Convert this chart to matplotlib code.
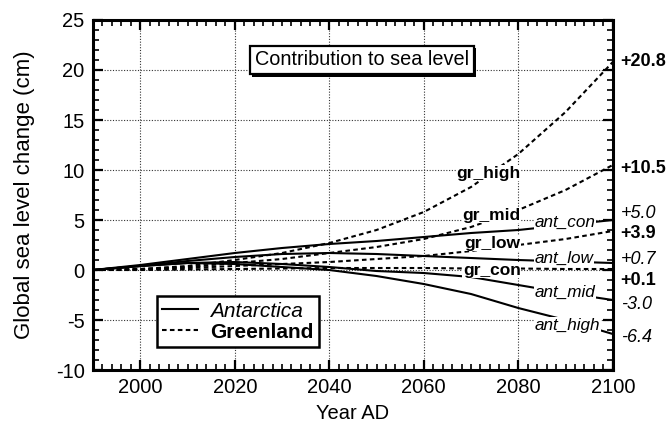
import matplotlib
matplotlib.use("Agg")
import matplotlib.pyplot as plt
import matplotlib.patheffects as pe
from matplotlib.ticker import MultipleLocator

plt.rcParams['font.family'] = ['Liberation Sans', 'DejaVu Sans']
plt.rcParams['axes.unicode_minus'] = False

# --- data (cm of global sea level change) ---
years = [1990, 2000, 2010, 2020, 2030, 2040, 2050, 2060, 2070, 2080, 2090, 2100]

ant_names = ['ant_con', 'ant_low', 'ant_mid', 'ant_high']
ant_con = [0, 0.5, 1.1, 1.7, 2.2, 2.6, 2.9, 3.3, 3.7, 4.0, 4.5, 5.0]
ant_low = [0, 0.4, 0.9, 1.3, 1.6, 1.7, 1.6, 1.4, 1.2, 1.0, 0.85, 0.7]
ant_mid = [0, 0.4, 0.7, 0.8, 0.6, 0.3, -0.1, -0.3, -0.7, -1.5, -2.3, -3.0]
ant_high = [0, 0.4, 0.7, 0.6, 0.3, 0.0, -0.6, -1.4, -2.4, -3.8, -5.0, -6.4]

gr_names = ['gr_high', 'gr_mid', 'gr_low', 'gr_con']
gr_high = [0, 0.1, 0.4, 1.0, 1.7, 2.7, 4.0, 5.8, 8.3, 11.6, 15.8, 20.8]
gr_mid = [0, 0.1, 0.3, 0.7, 1.1, 1.7, 2.3, 3.1, 4.3, 6.0, 8.0, 10.5]
gr_low = [0, 0.05, 0.2, 0.4, 0.6, 0.8, 1.1, 1.4, 1.9, 2.5, 3.1, 3.9]
gr_con = [0, 0.0, 0.05, 0.1, 0.15, 0.2, 0.2, 0.2, 0.15, 0.15, 0.1, 0.1]

ant_series = [ant_con, ant_low, ant_mid, ant_high]
gr_series = [gr_high, gr_mid, gr_low, gr_con]

# label placement (annotation positions, not data)
gr_label_x = 2080.5
gr_label_y = [9.7, 5.5, 2.7, 0.0]
ant_label_x = 2083.5
ant_label_y = [4.8, 1.2, -2.2, -5.5]
end_label_y = {'gr_high': 20.8, 'gr_mid': 10.2, 'ant_con': 5.7,
               'gr_low': 3.7, 'ant_low': 1.1, 'gr_con': -1.0,
               'ant_mid': -3.4, 'ant_high': -6.7}

fig = plt.figure(figsize=(6.69, 4.30), dpi=100)
ax = fig.add_axes([0.139, 0.1395, 0.777, 0.814])

for vals in ant_series:
    ax.plot(years, vals, color='black', lw=1.5, ls='-', zorder=3)
for vals in gr_series:
    ax.plot(years, vals, color='black', lw=1.5, ls=(0, (2.2, 1.6)), zorder=3)

box = dict(facecolor='white', edgecolor='none', pad=0.5)
for name, y in zip(gr_names, gr_label_y):
    ax.text(gr_label_x, y, name, ha='right', va='center', fontsize=12.5,
            fontweight='bold', bbox=box, zorder=4)
for name, y in zip(ant_names, ant_label_y):
    ax.text(ant_label_x, y, name, ha='left', va='center', fontsize=12.3,
            style='italic', bbox=box, zorder=4)

# end values at the right of the frame
ends = {n: s[-1] for n, s in zip(gr_names + ant_names, gr_series + ant_series)}
for name, v in ends.items():
    ax.text(1.015, end_label_y[name], f"{v:+.1f}",
            transform=ax.get_yaxis_transform(), ha='left', va='center',
            fontsize=13, clip_on=False,
            fontweight='bold' if name.startswith('gr') else 'normal',
            style='italic' if name.startswith('ant') else 'normal')

ax.set_xlim(1990, 2100)
ax.set_ylim(-10, 25)
ax.xaxis.set_major_locator(MultipleLocator(20))
ax.xaxis.set_minor_locator(MultipleLocator(2))
ax.yaxis.set_major_locator(MultipleLocator(5))
ax.yaxis.set_minor_locator(MultipleLocator(1))
ax.set_xticks(range(2000, 2101, 20))
ax.tick_params(which='both', direction='in', top=True, right=True,
               labelsize=14.5, pad=6)
ax.tick_params(which='major', length=7, width=1.6)
ax.tick_params(which='minor', length=4, width=1.2)
for sp in ax.spines.values():
    sp.set_linewidth(2.2)
ax.grid(True, which='major', ls=(0, (1, 1.5)), lw=0.8, color='#333333')
ax.set_axisbelow(True)

ax.set_xlabel('Year AD', fontsize=14.5, labelpad=5)
ax.set_ylabel('Global sea level change (cm)', fontsize=16, labelpad=15)

t = ax.text(2047, 21, 'Contribution to sea level', ha='center', va='center',
            fontsize=14.3, zorder=5,
            bbox=dict(boxstyle='square,pad=0.25', facecolor='white',
                      edgecolor='black', lw=1.6))
t.get_bbox_patch().set_path_effects([
    pe.SimplePatchShadow(offset=(1.5, -1.5), shadow_rgbFace='black', alpha=1),
    pe.Normal()])

leg_handles = [plt.Line2D([], [], color='black', lw=1.5, ls='-'),
               plt.Line2D([], [], color='black', lw=1.5, ls=(0, (2.2, 1.6)))]
leg = ax.legend(leg_handles, ['Antarctica', 'Greenland'], loc='lower left',
                bbox_to_anchor=(0.123, 0.066), fontsize=15, fancybox=False,
                framealpha=1, edgecolor='black', handlelength=1.7,
                borderpad=0.25, labelspacing=0.1, handletextpad=0.6,
                borderaxespad=0)
leg.get_frame().set_linewidth(1.8)
leg.get_texts()[0].set_style('italic')
leg.get_texts()[1].set_fontweight('bold')

fig.savefig('out.png', dpi=100)
